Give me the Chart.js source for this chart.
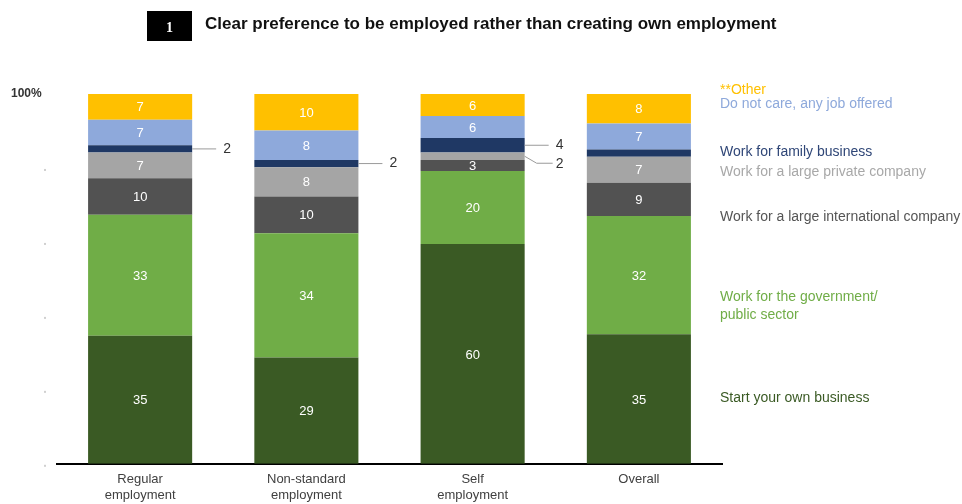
<!DOCTYPE html>
<html>
<head>
<meta charset="utf-8">
<script src="https://cdn.jsdelivr.net/npm/chart.js@4/dist/chart.umd.min.js"></script>
<style>
html,body{margin:0;padding:0;background:#fff;}
#wrap{width:962px;height:504px;position:relative;}
</style>
</head>
<body>
<div id="wrap"><canvas id="c" width="962" height="504"></canvas></div>
<script>
const categories = [["Regular","employment"],["Non-standard","employment"],["Self","employment"],["Overall"]];
const seriesNames = ["Start your own business","Work for the government/ public sector","Work for a large international company","Work for a large private company","Work for family business","Do not care, any job offered","**Other"];
const startOwn      = [35, 29, 60, 35];
const government    = [33, 34, 20, 32];
const international = [10, 10, 3, 9];
const privateCo     = [7, 8, 2, 7];
const family        = [2, 2, 4, 2];
const doNotCare     = [7, 8, 6, 7];
const other         = [7, 10, 6, 8];
const titleText = "Clear preference to be employed rather than creating own employment";
const yTopLabel = "100%";

const colors = ["#3A5A24","#70AD47","#525252","#A5A5A5","#1F3864","#8EA9DB","#FFC000"];
const legendColors = ["#3A5A24","#70AD47","#555555","#A8A8A8","#2F4677","#8EA9DB","#FFC000"];
const seriesData = [startOwn, government, international, privateCo, family, doNotCare, other];
// [dataset index, category index] labels drawn outside the bar with leader line; hidden: none shown
const outsideLabels = [[4,0],[4,1],[4,2],[3,2]];
const hiddenLabels = [[4,3]];

// shares of 100% per category (rounded labels sum to 100-101)
const totals = categories.map((_,ci)=>seriesData.reduce((s,d)=>s+d[ci],0));
const datasets = seriesData.map((d,i)=>({
  label: seriesNames[i],
  data: d.map((v,ci)=>v/totals[ci]*100),
  raw: d,
  backgroundColor: colors[i],
  borderWidth: 0,
  barPercentage: 0.626,
  categoryPercentage: 1.0
}));

function isIn(list, ds, ci){ return list.some(p=>p[0]===ds && p[1]===ci); }

const decor = {
  id: 'decor',
  afterDatasetsDraw(chart){
    const ctx = chart.ctx;
    const font = '13px "Liberation Sans", Arial, sans-serif';
    ctx.save();
    chart.data.datasets.forEach((ds, di)=>{
      const meta = chart.getDatasetMeta(di);
      meta.data.forEach((bar, ci)=>{
        if (isIn(outsideLabels, di, ci) || isIn(hiddenLabels, di, ci)) return;
        const cy = (bar.y + bar.base)/2;
        ctx.fillStyle = '#ffffff';
        ctx.font = font;
        ctx.textAlign = 'center';
        ctx.textBaseline = 'middle';
        ctx.fillText(String(ds.raw[ci]), bar.x, cy+1);
      });
    });
    ctx.strokeStyle = '#9a9a9a';
    ctx.lineWidth = 1;
    ctx.fillStyle = '#333333';
    ctx.font = '14px "Liberation Sans", Arial, sans-serif';
    ctx.textAlign = 'left';
    ctx.textBaseline = 'middle';
    const count = {};
    outsideLabels.forEach(([di,ci])=>{
      const bar = chart.getDatasetMeta(di).data[ci];
      const right = bar.x + bar.width/2;
      const cy = (bar.y + bar.base)/2;
      count[ci] = (count[ci]||0);
      const second = count[ci] === 1;
      count[ci]++;
      const ty = second ? cy + 8 : cy;
      ctx.beginPath();
      ctx.moveTo(right, cy);
      if (second) { ctx.lineTo(right+12, ty-1); ctx.lineTo(right+28, ty-1); }
      else ctx.lineTo(right+24, ty);
      ctx.stroke();
      ctx.fillText(String(chart.data.datasets[di].raw[ci]), right + 31, ty);
    });
    ctx.restore();
  },
  afterDraw(chart){
    const ctx = chart.ctx;
    const y = chart.scales.y;
    ctx.save();
    ctx.fillStyle = '#000';
    ctx.fillRect(147, 11, 45, 30);
    ctx.fillStyle = '#fff';
    ctx.font = 'bold 14px "Liberation Serif", serif';
    ctx.textAlign = 'center';
    ctx.textBaseline = 'middle';
    ctx.fillText('1', 169.5, 28);
    ctx.fillStyle = '#111';
    ctx.font = 'bold 17px "Liberation Sans", Arial, sans-serif';
    ctx.textAlign = 'left';
    ctx.fillText(titleText, 205, 24);
    ctx.fillStyle = '#333';
    ctx.font = 'bold 12px "Liberation Sans", Arial, sans-serif';
    ctx.fillText(yTopLabel, 11, y.getPixelForValue(100));
    ctx.fillStyle = '#d0d0d0';
    [0,20,40,60,80].forEach(v=>{ ctx.fillRect(44, y.getPixelForValue(v)+1, 2, 2); });
    ctx.font = '14px "Liberation Sans", Arial, sans-serif';
    ctx.textBaseline = 'middle';
    const legendY = [[398],[297,315],[217],[172],[152],[104],[90]];
    const legendLines = [["Start your own business"],["Work for the government/","public sector"],["Work for a large international company"],["Work for a large private company"],["Work for family business"],["Do not care, any job offered"],["**Other"]];
    legendLines.forEach((lines,i)=>{
      ctx.fillStyle = legendColors[i];
      lines.forEach((t,j)=>ctx.fillText(t, 720, legendY[i][j]));
    });
    ctx.restore();
  }
};

new Chart(document.getElementById('c'), {
  type: 'bar',
  data: { labels: categories, datasets },
  options: {
    responsive: false,
    animation: false,
    layout: { padding: { left: 57, right: 240, top: 94, bottom: -7 } },
    plugins: { legend: { display: false }, tooltip: { enabled: false }, title: { display: false } },
    scales: {
      x: {
        stacked: true,
        grid: { display: false, drawTicks: false },
        border: { display: true, color: '#000', width: 2 },
        ticks: { color: '#404040', font: { size: 13, lineHeight: 1.2, family: '"Liberation Sans", Arial, sans-serif' }, padding: 8, maxRotation: 0 }
      },
      y: {
        stacked: true,
        display: false,
        min: 0,
        max: 100
      }
    }
  },
  plugins: [decor]
});
</script>
</body>
</html>
